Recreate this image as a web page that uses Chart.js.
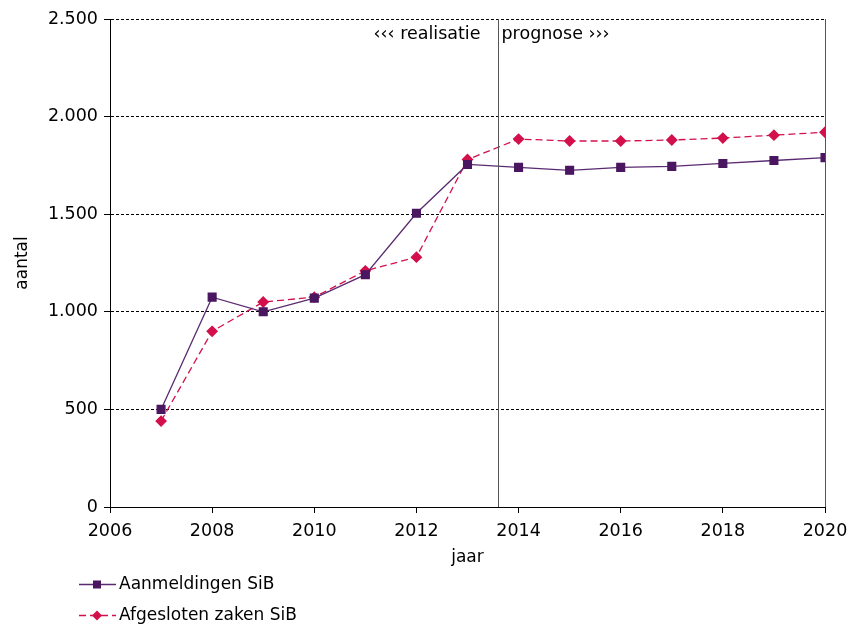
<!DOCTYPE html>
<html>
<head>
<meta charset="utf-8">
<script src="https://cdn.jsdelivr.net/npm/chart.js@4"></script>
<style>
  html, body { margin: 0; padding: 0; background: #fff; }
  #wrap { width: 851px; height: 627px; position: relative; }
</style>
</head>
<body>
<div id="wrap"><canvas id="c" width="851" height="627"></canvas></div>
<script>
const years = [2007, 2008, 2009, 2010, 2011, 2012, 2013, 2014, 2015, 2016, 2017, 2018, 2019, 2020];
const aanmeldingen = [500, 1075, 1000, 1070, 1190, 1505, 1755, 1740, 1725, 1740, 1745, 1760, 1775, 1790];
const afgesloten = [440, 900, 1050, 1075, 1210, 1280, 1780, 1885, 1875, 1875, 1880, 1890, 1905, 1920];
const seriesNames = ['Aanmeldingen SiB', 'Afgesloten zaken SiB'];
const prognoseStart = 2013.6;
const leftNote = '\u2039\u2039\u2039 realisatie';
const rightNote = 'prognose \u203A\u203A\u203A';
const xTitle = 'jaar';
const yTitle = 'aantal';

const FONT = "'DejaVu Sans', Verdana, sans-serif";
const purple = '#4a1660';
const red = '#d3104c';

function nlFormat(v) {
  return String(v).replace(/\B(?=(\d{3})+(?!\d))/g, '.');
}

const splitPlugin = {
  id: 'split',
  afterDatasetsDraw(chart) {
    const { ctx, chartArea, scales } = chart;
    const x = Math.round(scales.x.getPixelForValue(prognoseStart)) + 0.5;
    ctx.save();
    ctx.strokeStyle = '#555';
    ctx.lineWidth = 1;
    ctx.beginPath();
    ctx.moveTo(x, chartArea.top);
    ctx.lineTo(x, chartArea.bottom);
    ctx.stroke();
    ctx.fillStyle = '#000';
    ctx.font = '17.5px ' + FONT;
    ctx.textBaseline = 'middle';
    const ty = chartArea.top + 15;
    ctx.textAlign = 'right';
    ctx.fillText(leftNote, x - 18, ty);
    ctx.textAlign = 'left';
    ctx.fillText(rightNote, x + 3, ty);
    ctx.restore();
  }
};

const legendPlugin = {
  id: 'customLegend',
  afterDraw(chart) {
    const { ctx } = chart;
    const rows = [584, 615];
    ctx.save();
    chart.data.datasets.forEach((ds, i) => {
      const y = rows[i] + 0.5;
      ctx.strokeStyle = ds.borderColor;
      ctx.lineWidth = 1.3;
      ctx.setLineDash(ds.borderDash || []);
      ctx.beginPath();
      ctx.moveTo(79, y);
      ctx.lineTo(116, y);
      ctx.stroke();
      ctx.setLineDash([]);
      ctx.fillStyle = ds.pointBackgroundColor;
      if (ds.pointStyle === 'rect') {
        ctx.fillRect(93, y - 4, 8, 8);
      } else {
        ctx.beginPath();
        ctx.moveTo(97, y - 5);
        ctx.lineTo(102, y);
        ctx.lineTo(97, y + 5);
        ctx.lineTo(92, y);
        ctx.closePath();
        ctx.fill();
      }
      ctx.fillStyle = '#000';
      ctx.font = '17px ' + FONT;
      ctx.textAlign = 'left';
      ctx.textBaseline = 'middle';
      ctx.fillText(ds.label, 119, y);
    });
    ctx.restore();
  }
};

new Chart(document.getElementById('c'), {
  type: 'line',
  data: {
    datasets: [
      {
        label: seriesNames[0],
        data: years.map((y, i) => ({ x: y, y: aanmeldingen[i] })),
        borderColor: '#5a2a70',
        backgroundColor: purple,
        pointBackgroundColor: purple,
        pointBorderColor: purple,
        pointStyle: 'rect',
        pointRadius: 5.5,
        borderWidth: 1.3,
        tension: 0
      },
      {
        label: seriesNames[1],
        data: years.map((y, i) => ({ x: y, y: afgesloten[i] })),
        borderColor: red,
        backgroundColor: red,
        pointBackgroundColor: red,
        pointBorderColor: red,
        pointStyle: 'rectRot',
        pointRadius: 5,
        borderWidth: 1.3,
        borderDash: [7, 4],
        tension: 0
      }
    ]
  },
  options: {
    responsive: false,
    animation: false,
    layout: { padding: { left: 0, top: 19, right: 26, bottom: 55 } },
    plugins: {
      legend: { display: false },
      tooltip: { enabled: false }
    },
    scales: {
      x: {
        type: 'linear',
        min: 2006,
        max: 2020,
        ticks: {
          stepSize: 2,
          color: '#000',
          font: { family: FONT, size: 17.5 },
          padding: 8,
          maxRotation: 0,
          callback: v => String(v)
        },
        grid: {
          drawOnChartArea: true,
          color: c => (c.tick && c.tick.value === 2020) ? '#555' : 'rgba(0,0,0,0)',
          tickColor: '#000',
          tickLength: 6
        },
        border: { display: true, color: '#000', width: 1 },
        title: {
          display: true,
          text: xTitle,
          color: '#000',
          font: { family: FONT, size: 17 },
          padding: { top: 5 }
        },
        afterFit: s => { s.height = 65; s.paddingLeft = 0; s.paddingRight = 0; }
      },
      y: {
        min: 0,
        max: 2500,
        ticks: {
          stepSize: 500,
          color: '#000',
          font: { family: FONT, size: 17.5 },
          padding: 6,
          callback: v => nlFormat(v)
        },
        grid: {
          color: c => (c.tick && c.tick.value === 0) ? 'rgba(0,0,0,0)' : '#000',
          tickColor: '#000',
          tickLength: 6
        },
        border: { display: true, color: '#000', width: 1, dash: [3, 2] },
        title: {
          display: true,
          text: yTitle,
          color: '#000',
          font: { family: FONT, size: 17 },
          padding: { bottom: 0, top: 12 }
        },
        afterFit: s => { s.width = 110; s.paddingTop = 0; s.paddingBottom = 0; }
      }
    }
  },
  plugins: [splitPlugin, legendPlugin]
});
</script>
</body>
</html>
